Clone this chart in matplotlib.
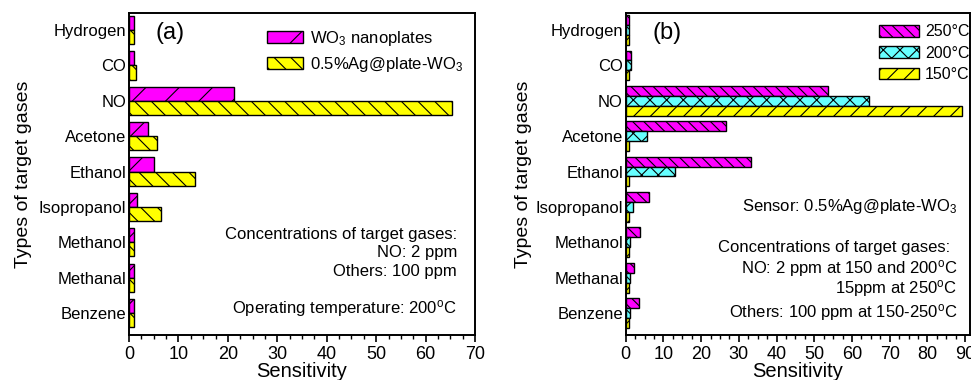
import matplotlib
matplotlib.use('Agg')
import matplotlib.pyplot as plt
from matplotlib.ticker import MultipleLocator
import numpy as np

plt.rcParams['font.family'] = ['Liberation Sans', 'DejaVu Sans']
plt.rcParams['mathtext.fontset'] = 'custom'
plt.rcParams['mathtext.rm'] = 'Liberation Sans'
plt.rcParams['mathtext.it'] = 'Liberation Sans'
plt.rcParams['hatch.linewidth'] = 0.8

gases = ['Hydrogen', 'CO', 'NO', 'Acetone', 'Ethanol', 'Isopropanol',
         'Methanol', 'Methanal', 'Benzene']

# panel (a): pure vs Ag-loaded plates at 200 C
wo3_plates = [1.1, 1.1, 21.3, 3.9, 5.0, 1.7, 1.1, 1.1, 1.1]
ag_plates = [1.1, 1.4, 65.4, 5.6, 13.4, 6.4, 1.1, 1.1, 1.1]

# panel (b): 0.5%Ag@plate-WO3 at three temperatures
t250 = [1.0, 1.5, 53.6, 26.5, 33.2, 6.3, 3.8, 2.2, 3.6]
t200 = [1.0, 1.5, 64.6, 5.6, 13.2, 1.9, 1.2, 1.1, 1.2]
t150 = [0.9, 0.8, 89.3, 1.0, 1.0, 1.0, 1.0, 1.0, 1.0]

y = np.arange(len(gases))[::-1]

fig = plt.figure(figsize=(9.71, 3.8), dpi=100)
ax1 = fig.add_axes([129/971, 1-335/380, 346/971, 322/380])
ax2 = fig.add_axes([625.7/971, 1-335/380, 344.3/971, 322/380])

deg = '$^{\\mathregular{o}}$'


def style_axis(ax, xmax, ticks):
    ax.set_xlim(0, xmax)
    ax.set_ylim(-0.62, 8.48)
    ax.set_yticks(y)
    ax.set_yticklabels(gases, fontsize=12)
    ax.set_xticks(ticks)
    ax.xaxis.set_minor_locator(MultipleLocator(2.5))
    ax.tick_params(axis='x', which='major', direction='out', length=5, width=1.2,
                   labelsize=13, pad=3)
    ax.tick_params(axis='x', which='minor', direction='out', length=3, width=1)
    ax.tick_params(axis='y', length=0, pad=2)
    for s in ax.spines.values():
        s.set_linewidth(1.4)
    ax.set_xlabel('Sensitivity', fontsize=14.5)
    ax.xaxis.set_label_coords(0.5, -0.085)
    ax.set_ylabel('Types of target gases', fontsize=14)


# (a)
h = 0.4
ax1.barh(y + h/2, wo3_plates, height=h, color='#ff00ff', edgecolor='k',
         linewidth=1, hatch='/', label='WO$_3$ nanoplates')
ax1.barh(y - h/2, ag_plates, height=h, color='#ffff00', edgecolor='k',
         linewidth=1, hatch='\\\\', label='0.5%Ag@plate-WO$_3$')
style_axis(ax1, 70, np.arange(0, 71, 10))
ax1.yaxis.set_label_coords(-0.28, 0.5)
ax1.text(0.118, 0.938, '(a)', transform=ax1.transAxes, fontsize=17,
         ha='center', va='center')
ax1.legend(loc='upper left', bbox_to_anchor=(0.399, 0.95), frameon=False,
           fontsize=12, borderpad=0, borderaxespad=0, handlelength=2.15,
           handleheight=0.75, handletextpad=0.4, labelspacing=0.4)
notes_a = [('Concentrations of target gases:', 0.311),
           ('NO: 2 ppm', 0.255),
           ('Others: 100 ppm', 0.196),
           ('Operating temperature: 200' + deg + 'C', 0.081)]
for txt, ty in notes_a:
    ax1.text(0.948, ty, txt, transform=ax1.transAxes, fontsize=12,
             ha='right', va='center')

# (b)
w = 0.28
ax2.barh(y + w, t250, height=w, color='#ff00ff', edgecolor='k',
         linewidth=1, hatch='\\\\\\', label='250°C')
ax2.barh(y, t200, height=w, color='#66ffff', edgecolor='k',
         linewidth=1, hatch='xx', label='200°C')
ax2.barh(y - w, t150, height=w, color='#ffff00', edgecolor='k',
         linewidth=1, hatch='//', label='150°C')
style_axis(ax2, 91.3, np.arange(0, 91, 10))
ax2.yaxis.set_label_coords(-0.272, 0.5)
ax2.text(0.12, 0.938, '(b)', transform=ax2.transAxes, fontsize=17,
         ha='center', va='center')
ax2.legend(loc='upper left', bbox_to_anchor=(0.735, 0.965), frameon=False,
           fontsize=11.5, borderpad=0, borderaxespad=0, handlelength=2.5,
           handleheight=0.75, handletextpad=0.4, labelspacing=0.4)
notes_b = [('Sensor: 0.5%Ag@plate-WO$_3$', 0.398, 0.962),
           ('Concentrations of target gases:', 0.273, 0.942),
           ('NO: 2 ppm at 150 and 200' + deg + 'C', 0.208, 0.962),
           ('15ppm at 250' + deg + 'C', 0.143, 0.962),
           ('Others: 100 ppm at 150-250' + deg + 'C', 0.071, 0.962)]
for txt, ty, tx in notes_b:
    ax2.text(tx, ty, txt, transform=ax2.transAxes, fontsize=12,
             ha='right', va='center')

fig.savefig('out.png', dpi=100)
